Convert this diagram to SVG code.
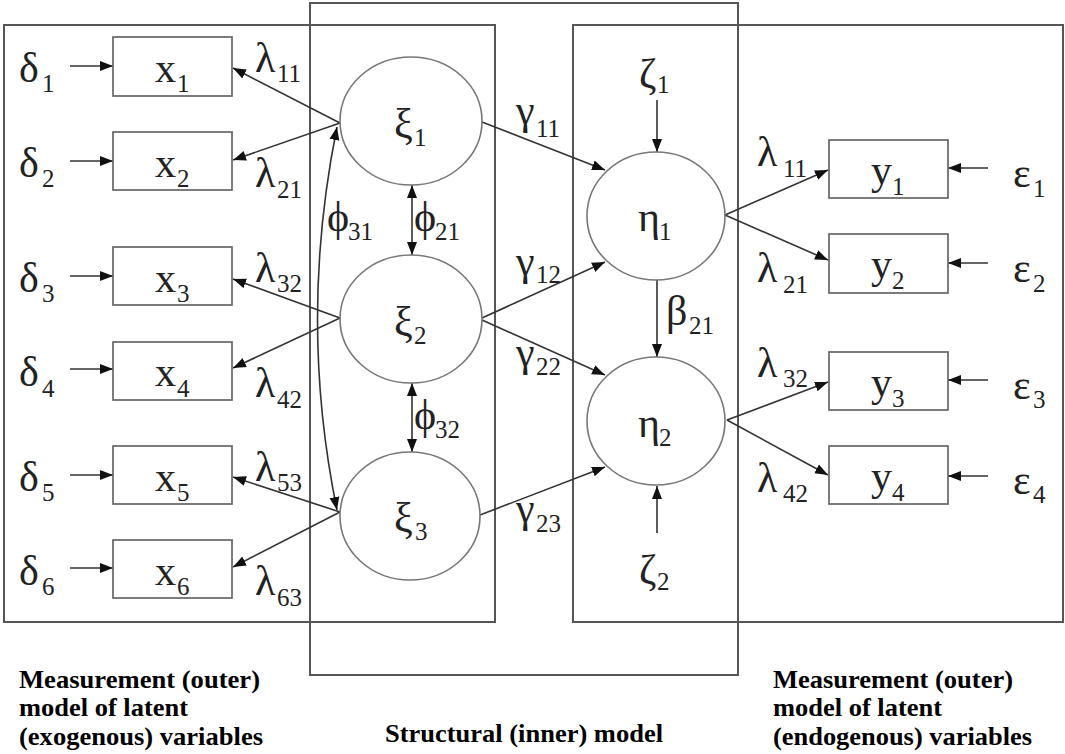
<svg xmlns="http://www.w3.org/2000/svg" width="1065" height="754" viewBox="0 0 1065 754">
<style>
.frame{fill:none;stroke:#555;stroke-width:2}
.box{fill:#fff;stroke:#666;stroke-width:1.7}
.lat{fill:#fff;stroke:#777;stroke-width:1.6}
.c{fill:none;stroke:#333;stroke-width:1.6}
.g{font-family:"Liberation Serif","DejaVu Serif","Times New Roman",serif;font-size:42px;font-weight:normal;fill:#222}
.s{font-size:25px}
.cap{font-family:"Liberation Serif","DejaVu Serif","Times New Roman",serif;font-size:25.5px;font-weight:bold;fill:#000}
</style>
<defs>
<marker id="ah" markerUnits="userSpaceOnUse" markerWidth="14" markerHeight="11" refX="13" refY="5" orient="auto-start-reverse" viewBox="0 0 14 10">
<path d="M0,0 L13,5 L0,10 z" fill="#111"/>
</marker>
</defs>
<rect width="1065" height="754" fill="#fff"/>
<g id="frames">
<rect class="frame" x="4" y="25" width="491" height="597"/>
<rect class="frame" x="573" y="25" width="490" height="597"/>
<rect class="frame" x="310" y="3" width="428" height="672" stroke="#444"/>
</g>
<g id="connectors">
<line class="c" x1="70" y1="66" x2="113" y2="66" marker-end="url(#ah)"/>
<line class="c" x1="70" y1="161" x2="113" y2="161" marker-end="url(#ah)"/>
<line class="c" x1="70" y1="276" x2="113" y2="276" marker-end="url(#ah)"/>
<line class="c" x1="70" y1="369" x2="113" y2="369" marker-end="url(#ah)"/>
<line class="c" x1="70" y1="475" x2="113" y2="475" marker-end="url(#ah)"/>
<line class="c" x1="70" y1="568" x2="113" y2="568" marker-end="url(#ah)"/>
<line class="c" x1="340" y1="123" x2="233" y2="68" marker-end="url(#ah)"/>
<line class="c" x1="340" y1="123" x2="233" y2="160" marker-end="url(#ah)"/>
<line class="c" x1="340" y1="318" x2="233" y2="279" marker-end="url(#ah)"/>
<line class="c" x1="340" y1="318" x2="233" y2="368" marker-end="url(#ah)"/>
<line class="c" x1="340" y1="512" x2="233" y2="477" marker-end="url(#ah)"/>
<line class="c" x1="340" y1="512" x2="233" y2="567" marker-end="url(#ah)"/>
<path class="c" d="M337,127 Q298,320 337,510" marker-start="url(#ah)" marker-end="url(#ah)"/>
<line class="c" x1="412" y1="185" x2="412" y2="255" marker-start="url(#ah)" marker-end="url(#ah)"/>
<line class="c" x1="412" y1="383" x2="412" y2="452" marker-start="url(#ah)" marker-end="url(#ah)"/>
<line class="c" x1="482" y1="122" x2="605" y2="170" marker-end="url(#ah)"/>
<line class="c" x1="482" y1="318" x2="605" y2="262" marker-end="url(#ah)"/>
<line class="c" x1="482" y1="320" x2="605" y2="375" marker-end="url(#ah)"/>
<line class="c" x1="480" y1="515" x2="605" y2="467" marker-end="url(#ah)"/>
<line class="c" x1="657" y1="100" x2="657" y2="152" marker-end="url(#ah)"/>
<line class="c" x1="657" y1="280" x2="657" y2="357" marker-end="url(#ah)"/>
<line class="c" x1="657" y1="533" x2="657" y2="486" marker-end="url(#ah)"/>
<line class="c" x1="725" y1="215" x2="828" y2="170" marker-end="url(#ah)"/>
<line class="c" x1="725" y1="215" x2="828" y2="260" marker-end="url(#ah)"/>
<line class="c" x1="727" y1="420" x2="828" y2="382" marker-end="url(#ah)"/>
<line class="c" x1="727" y1="420" x2="828" y2="475" marker-end="url(#ah)"/>
<line class="c" x1="988" y1="168" x2="948" y2="168" marker-end="url(#ah)"/>
<line class="c" x1="988" y1="263" x2="948" y2="263" marker-end="url(#ah)"/>
<line class="c" x1="988" y1="380" x2="948" y2="380" marker-end="url(#ah)"/>
<line class="c" x1="988" y1="476" x2="948" y2="476" marker-end="url(#ah)"/>
</g>
<g id="connector-labels" class="g">
<text x="255" y="72">λ<tspan class="s" x="277" y="82">11</tspan></text>
<text x="255" y="187">λ<tspan class="s" x="277" y="198">21</tspan></text>
<text x="255" y="282">λ<tspan class="s" x="277" y="292">32</tspan></text>
<text x="255" y="397">λ<tspan class="s" x="277" y="408">42</tspan></text>
<text x="255" y="481">λ<tspan class="s" x="277" y="491">53</tspan></text>
<text x="255" y="595">λ<tspan class="s" x="277" y="606">63</tspan></text>
<text x="327" y="231">ϕ<tspan class="s" x="348" y="240">31</tspan></text>
<text x="414" y="231">ϕ<tspan class="s" x="435" y="240">21</tspan></text>
<text x="414" y="429">ϕ<tspan class="s" x="435" y="438">32</tspan></text>
<text x="516" y="124">γ<tspan class="s" x="536" y="137">11</tspan></text>
<text x="516" y="275">γ<tspan class="s" x="536" y="283">12</tspan></text>
<text x="516" y="366">γ<tspan class="s" x="536" y="375">22</tspan></text>
<text x="516" y="522">γ<tspan class="s" x="536" y="532">23</tspan></text>
<text x="666" y="325">β<tspan class="s" x="689" y="334">21</tspan></text>
<text x="757" y="166">λ<tspan class="s" x="783" y="177">11</tspan></text>
<text x="757" y="282">λ<tspan class="s" x="783" y="293">21</tspan></text>
<text x="757" y="377">λ<tspan class="s" x="783" y="387">32</tspan></text>
<text x="757" y="492">λ<tspan class="s" x="783" y="502">42</tspan></text>
</g>
<g id="delta1" class="g"><text x="19" y="82">δ<tspan class="s" x="42" y="92">1</tspan></text></g>
<g id="delta2" class="g"><text x="19" y="177">δ<tspan class="s" x="42" y="187">2</tspan></text></g>
<g id="delta3" class="g"><text x="19" y="292">δ<tspan class="s" x="42" y="302">3</tspan></text></g>
<g id="delta4" class="g"><text x="19" y="386">δ<tspan class="s" x="42" y="397">4</tspan></text></g>
<g id="delta5" class="g"><text x="19" y="491">δ<tspan class="s" x="42" y="501">5</tspan></text></g>
<g id="delta6" class="g"><text x="19" y="585">δ<tspan class="s" x="42" y="595">6</tspan></text></g>
<g id="x1"><rect class="box" x="113" y="37" width="119" height="59"/><text class="g" x="155" y="82">x<tspan class="s" x="177" y="92">1</tspan></text></g>
<g id="x2"><rect class="box" x="113" y="132" width="119" height="58"/><text class="g" x="155" y="177">x<tspan class="s" x="177" y="187">2</tspan></text></g>
<g id="x3"><rect class="box" x="113" y="247" width="119" height="58"/><text class="g" x="155" y="292">x<tspan class="s" x="177" y="302">3</tspan></text></g>
<g id="x4"><rect class="box" x="113" y="342" width="119" height="58"/><text class="g" x="155" y="386">x<tspan class="s" x="177" y="397">4</tspan></text></g>
<g id="x5"><rect class="box" x="113" y="446" width="119" height="58"/><text class="g" x="155" y="491">x<tspan class="s" x="177" y="501">5</tspan></text></g>
<g id="x6"><rect class="box" x="113" y="540" width="119" height="58"/><text class="g" x="155" y="585">x<tspan class="s" x="177" y="595">6</tspan></text></g>
<g id="xi1"><ellipse class="lat" cx="411" cy="121" rx="71" ry="64"/><text class="g" x="394" y="138">ξ<tspan class="s" x="414" y="146">1</tspan></text></g>
<g id="xi2"><ellipse class="lat" cx="411" cy="319" rx="71" ry="64"/><text class="g" x="394" y="336">ξ<tspan class="s" x="414" y="344">2</tspan></text></g>
<g id="xi3"><ellipse class="lat" cx="410" cy="516" rx="70" ry="64"/><text class="g" x="394" y="532">ξ<tspan class="s" x="415" y="540">3</tspan></text></g>
<g id="eta1"><ellipse class="lat" cx="656" cy="216" rx="69" ry="64"/><text class="g" x="638" y="231">η<tspan class="s" x="659" y="240">1</tspan></text></g>
<g id="eta2"><ellipse class="lat" cx="656" cy="421" rx="69" ry="64"/><text class="g" x="638" y="437">η<tspan class="s" x="659" y="446">2</tspan></text></g>
<g id="zeta1" class="g"><text x="639" y="88">ζ<tspan class="s" x="657" y="93">1</tspan></text></g>
<g id="zeta2" class="g"><text x="639" y="584">ζ<tspan class="s" x="657" y="590">2</tspan></text></g>
<g id="y1"><rect class="box" x="829" y="140" width="119" height="58"/><text class="g" x="871" y="184">y<tspan class="s" x="892" y="195">1</tspan></text></g>
<g id="y2"><rect class="box" x="829" y="234" width="119" height="59"/><text class="g" x="871" y="278">y<tspan class="s" x="892" y="289">2</tspan></text></g>
<g id="y3"><rect class="box" x="829" y="352" width="119" height="58"/><text class="g" x="871" y="396">y<tspan class="s" x="892" y="407">3</tspan></text></g>
<g id="y4"><rect class="box" x="829" y="446" width="119" height="58"/><text class="g" x="871" y="490">y<tspan class="s" x="892" y="501">4</tspan></text></g>
<g id="eps1" class="g"><text x="1013" y="187">ε<tspan class="s" x="1033" y="197">1</tspan></text></g>
<g id="eps2" class="g"><text x="1013" y="282">ε<tspan class="s" x="1033" y="292">2</tspan></text></g>
<g id="eps3" class="g"><text x="1013" y="399">ε<tspan class="s" x="1033" y="408">3</tspan></text></g>
<g id="eps4" class="g"><text x="1013" y="494">ε<tspan class="s" x="1033" y="503">4</tspan></text></g>
<g id="captions" class="cap">
<text x="19" y="688" textLength="241" lengthAdjust="spacingAndGlyphs">Measurement (outer)</text>
<text x="19" y="716" textLength="169" lengthAdjust="spacingAndGlyphs">model of latent</text>
<text x="19" y="745" textLength="244" lengthAdjust="spacingAndGlyphs">(exogenous) variables</text>
<text x="385" y="742" textLength="278" lengthAdjust="spacingAndGlyphs">Structural (inner) model</text>
<text x="773" y="688" textLength="240" lengthAdjust="spacingAndGlyphs">Measurement (outer)</text>
<text x="773" y="716" textLength="169" lengthAdjust="spacingAndGlyphs">model of latent</text>
<text x="773" y="745" textLength="259" lengthAdjust="spacingAndGlyphs">(endogenous) variables</text>
</g>
</svg>
